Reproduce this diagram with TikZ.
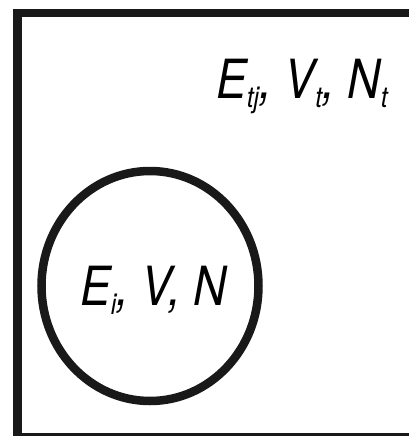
\documentclass[tikz,border=0pt]{standalone}
\usepackage{fontspec}
\setmainfont[FakeStretch=0.85]{TeX Gyre Heros}
\usetikzlibrary{shapes.geometric}
\newcommand{\lowsub}[1]{\raisebox{-9pt}{\fontsize{29}{30}\selectfont #1}}
\tikzset{
  setline/.style={draw,line width=8.5pt,color=black!90},
  setlabel/.style={font=\fontsize{54}{60}\selectfont\itshape,inner sep=0pt},
}
\begin{document}
\begin{tikzpicture}[x=1pt,y=-1pt]
  \useasboundingbox (0,0) rectangle (409,436);
  \clip (0,0) rectangle (409,436);
  % universe and subset
  \node[setline,rectangle,minimum width=420pt,minimum height=424pt,
        anchor=north west,inner sep=0pt] (universe) at (13,9) {};
  \node[setline,ellipse,minimum width=217pt,minimum height=230pt,
        inner sep=0pt] (subset) at (150,286) {};
  % labels
  \node[setlabel,anchor=base west] (outer) at (216,98)
    {E\lowsub{tj}, V\lowsub{t}, N\lowsub{t}};
  \node[setlabel,anchor=base west] (inner) at (80,305)
    {E\lowsub{i}, V, N};
\end{tikzpicture}
\end{document}
